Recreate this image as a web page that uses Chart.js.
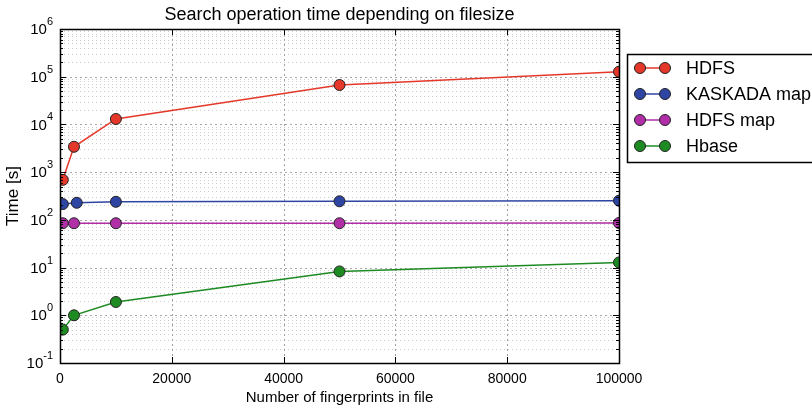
<!DOCTYPE html>
<html>
<head>
<meta charset="utf-8">
<script src="https://cdn.jsdelivr.net/npm/chart.js@4"></script>
<style>
  html, body { margin: 0; padding: 0; background: #fff; }
  #wrap { width: 812px; height: 408px; }
</style>
</head>
<body>
<div id="wrap"><canvas id="chart" width="812" height="408"></canvas></div>
<script>
// ── Data ──────────────────────────────────────────────────────────────────────
const seriesNames = ["HDFS", "KASKADA map", "HDFS map", "Hbase"];
const xHdfs     = [500, 2500, 10000, 50000, 100000];
const xKaskada  = [500, 3000, 10000, 50000, 100000];
const yHdfs     = [690, 3400, 13000, 67000, 127000];
const yKaskada  = [214, 228, 239, 245, 252];
const yHdfsMap  = [85, 85, 85, 85, 86];
const yHbase    = [0.5, 1.0, 1.9, 8.3, 12.8];
const xTicks    = [0, 20000, 40000, 60000, 80000, 100000];
const yDecades  = [-1, 0, 1, 2, 3, 4, 5, 6];

const colors = ["#e5382b", "#2f45a3", "#b02ea6", "#1d8a22"];
const FONT = "'Liberation Sans', Arial, sans-serif";

const pairs = (xs, ys) => xs.map((x, i) => ({ x, y: ys[i] }));

// ── Plugin: matplotlib-like frame, grid, inward ticks, boxed legend ──────────
const mplAxes = {
  id: "mplAxes",
  beforeDatasetsDraw(chart) {
    const { ctx, chartArea: a, scales: { x, y } } = chart;
    ctx.save();
    ctx.lineWidth = 1;
    // minor horizontal (dotted)
    yDecades.slice(0, -1).forEach(e => {
      for (let m = 2; m <= 9; m++) {
        const py = Math.round(y.getPixelForValue(m * Math.pow(10, e))) + 0.5;
        ctx.strokeStyle = "#cccccc";
        ctx.setLineDash([1, 3]);
        ctx.beginPath(); ctx.moveTo(a.left, py); ctx.lineTo(a.right, py); ctx.stroke();
      }
    });
    // major horizontal (dashed)
    yDecades.forEach(e => {
      const py = Math.round(y.getPixelForValue(Math.pow(10, e))) + 0.5;
      ctx.strokeStyle = "#a8a8a8";
      ctx.setLineDash([2, 3]);
      ctx.beginPath(); ctx.moveTo(a.left, py); ctx.lineTo(a.right, py); ctx.stroke();
    });
    // major vertical (dashed)
    xTicks.forEach(v => {
      const px = Math.round(x.getPixelForValue(v)) + 0.5;
      ctx.strokeStyle = "#a0a0a0";
      ctx.setLineDash([2, 3]);
      ctx.beginPath(); ctx.moveTo(px, a.top); ctx.lineTo(px, a.bottom); ctx.stroke();
    });
    ctx.restore();
  },
  afterDatasetsDraw(chart) {
    const { ctx, chartArea: a, scales: { x, y } } = chart;
    ctx.save();
    ctx.setLineDash([]);
    ctx.strokeStyle = "#000";
    ctx.lineWidth = 1;
    // inward ticks
    ctx.beginPath();
    yDecades.forEach(e => {
      for (let m = 1; m <= 9; m++) {
        const v = m * Math.pow(10, e);
        if (e === 6 && m > 1) break;
        const len = m === 1 ? 6 : 3;
        const py = Math.round(y.getPixelForValue(v)) + 0.5;
        ctx.moveTo(a.left, py); ctx.lineTo(a.left + len, py);
        ctx.moveTo(a.right, py); ctx.lineTo(a.right - len, py);
      }
    });
    xTicks.forEach(v => {
      const px = Math.round(x.getPixelForValue(v)) + 0.5;
      ctx.moveTo(px, a.bottom); ctx.lineTo(px, a.bottom - 6);
      ctx.moveTo(px, a.top); ctx.lineTo(px, a.top + 6);
    });
    ctx.stroke();
    // frame
    ctx.lineWidth = 1.5;
    ctx.strokeRect(Math.round(a.left) + 0.5, Math.round(a.top) + 0.5,
                   Math.round(a.right - a.left), Math.round(a.bottom - a.top));
    // y tick labels 10^e
    ctx.fillStyle = "#000";
    ctx.textBaseline = "middle";
    yDecades.forEach(e => {
      const py = y.getPixelForValue(Math.pow(10, e));
      const exp = String(e);
      ctx.font = "11px " + FONT;
      const ew = ctx.measureText(exp).width;
      const right = a.left - 7;
      ctx.textAlign = "left";
      ctx.fillText(exp, right - ew, py - 7);
      ctx.font = "15px " + FONT;
      ctx.textAlign = "right";
      ctx.fillText("10", right - ew, py + 1);
    });
    // legend box
    const lx = 627.5, ly = 54.5;
    ctx.lineWidth = 1.5;
    ctx.strokeRect(lx, ly, 200, 108);
    chart.data.datasets.forEach((ds, i) => {
      const ry = 68 + i * 26;
      ctx.strokeStyle = ds.borderColor;
      ctx.lineWidth = 1.5;
      ctx.beginPath(); ctx.moveTo(640, ry); ctx.lineTo(665, ry); ctx.stroke();
      [640, 665].forEach(cx => {
        ctx.beginPath(); ctx.arc(cx, ry, 5.5, 0, Math.PI * 2);
        ctx.fillStyle = ds.pointBackgroundColor;
        ctx.fill();
        ctx.lineWidth = 1; ctx.strokeStyle = "#222"; ctx.stroke();
      });
      ctx.fillStyle = "#000";
      ctx.font = "18px " + FONT;
      ctx.textAlign = "left";
      ctx.fillText(ds.label, 686, ry + 1);
    });
    ctx.restore();
  },
};

// ── Chart ─────────────────────────────────────────────────────────────────────
const mk = (i, pts) => ({
  label: seriesNames[i],
  data: pts,
  borderColor: colors[i],
  backgroundColor: colors[i],
  pointBackgroundColor: colors[i],
  pointBorderColor: "#222",
  pointBorderWidth: 1,
  pointRadius: 5.5,
  borderWidth: 1.5,
  tension: 0,
  clip: { left: 0, right: 0, top: 0, bottom: 0 },
});

new Chart(document.getElementById("chart"), {
  type: "line",
  data: {
    datasets: [
      mk(0, pairs(xHdfs, yHdfs)),
      mk(1, pairs(xKaskada, yKaskada)),
      mk(2, pairs(xHdfs, yHdfsMap)),
      mk(3, pairs(xHdfs, yHbase)),
    ],
  },
  options: {
    responsive: false,
    animation: false,
    layout: { padding: { left: 0, right: 193, top: 0, bottom: 0 } },
    plugins: {
      legend: { display: false },
      tooltip: { enabled: false },
      title: {
        display: true,
        fullSize: false,
        text: "Search operation time depending on filesize",
        color: "#000",
        font: { family: FONT, size: 18, weight: "normal" },
        padding: { top: 4, bottom: 3.4 },
      },
    },
    scales: {
      x: {
        type: "linear",
        min: 0, max: 100000,
        afterBuildTicks: s => { s.ticks = xTicks.map(v => ({ value: v })); },
        afterFit: s => { s.height = 45; },
        grid: { display: false, drawTicks: false, tickLength: 0 },
        border: { display: false },
        ticks: {
          color: "#000",
          padding: 8,
          maxRotation: 0,
          font: { family: FONT, size: 14 },
          callback: v => String(v),
        },
        title: {
          display: true,
          text: "Number of fingerprints in file",
          color: "#000",
          font: { family: FONT, size: 15 },
          padding: { top: 0, bottom: 1 },
        },
      },
      y: {
        type: "logarithmic",
        min: 0.1, max: 1e6,
        afterFit: s => { s.width = 60; },
        grid: { display: false },
        border: { display: false },
        ticks: { display: false },
        title: {
          display: true,
          text: "Time [s]",
          color: "#000",
          font: { family: FONT, size: 17 },
          padding: { top: 3, bottom: 0 },
        },
      },
    },
  },
  plugins: [mplAxes],
});
</script>
</body>
</html>
